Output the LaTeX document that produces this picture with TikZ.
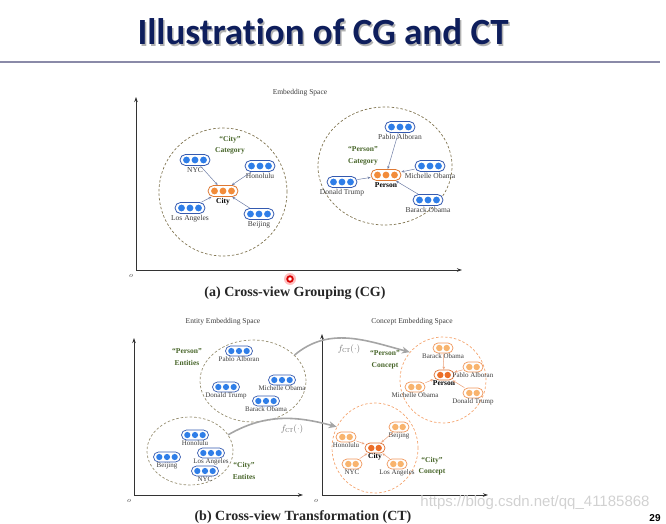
\documentclass[tikz,border=0pt]{standalone}
\usepackage{fontspec}
\setmainfont{Liberation Serif}
\newfontfamily\titlefont[Ligatures=NoCommon]{Carlito}
\newfontfamily\markfont{Liberation Sans}
\usepackage{tikz}
\usetikzlibrary{arrows.meta,shapes.geometric,positioning}
\definecolor{cgnavy}{RGB}{14,30,92}
\definecolor{cgrule}{RGB}{138,138,168}
\definecolor{cgblue}{RGB}{47,126,232}
\definecolor{cgblueline}{RGB}{52,90,176}
\definecolor{cgorange}{RGB}{242,140,58}
\definecolor{cgorangeline}{RGB}{222,120,50}
\definecolor{ctlight}{RGB}{248,180,110}
\definecolor{ctlightline}{RGB}{240,150,90}
\definecolor{ctdark}{RGB}{236,110,40}
\definecolor{ctdarkline}{RGB}{222,112,50}
\definecolor{cgolive}{RGB}{128,116,80}
\definecolor{cgoliveb}{RGB}{150,142,112}
\definecolor{ctcircle}{RGB}{244,164,110}
\definecolor{cggreen}{RGB}{70,100,40}
\definecolor{cglink}{RGB}{110,125,165}
\definecolor{ctlink}{RGB}{235,160,120}
\definecolor{cgtext}{RGB}{60,60,60}
\definecolor{ctgray}{RGB}{165,165,165}
\tikzstyle{bigvec} = [rectangle, rounded corners=5.5pt, draw=#1line, fill=white, line width=0.8pt, minimum width=30pt, minimum height=11pt, inner sep=0pt, path picture={\foreach \k in {-1,0,1} \fill[#1] ([xshift=\k*8.5pt]path picture bounding box.center) circle (3.4pt);}]
\tikzstyle{smallvec} = [rectangle, rounded corners=5pt, draw=#1line, fill=white, line width=0.7pt, minimum width=27pt, minimum height=10pt, inner sep=0pt, path picture={\foreach \k in {-1,0,1} \fill[#1] ([xshift=\k*7.7pt]path picture bounding box.center) circle (3.1pt);}]
\tikzstyle{conceptvec} = [rectangle, rounded corners=5pt, draw=#1line, fill=white, line width=0.7pt, minimum width=20pt, minimum height=10pt, inner sep=0pt, path picture={\foreach \k in {-1,1} \fill[#1] ([xshift=\k*3.7pt]path picture bounding box.center) circle (3.2pt);}]
\tikzstyle{group} = [ellipse, draw=#1, dash pattern=on 2.5pt off 2pt, line width=0.7pt, inner sep=0pt]
\tikzstyle{lbl} = [font=\fontsize{7.5}{8}\selectfont, text=cgtext, inner sep=0pt]
\tikzstyle{cat} = [font=\fontsize{7.5}{11.5}\selectfont\bfseries, text=cggreen, align=center, inner sep=0pt]
\tikzstyle{link} = [-{Stealth[open, length=3pt, width=2.6pt]}, line width=0.5pt, draw=#1]
\tikzstyle{axis} = [{Stealth[length=5pt, width=3.5pt]}-{Stealth[length=5pt, width=3.5pt]}, line width=0.8pt, draw=black!80]
\tikzstyle{ctarrow} = [-{Stealth[length=8pt, width=7pt]}, line width=1.6pt, draw=ctgray]
\tikzstyle{caption} = [font=\fontsize{14}{16}\selectfont\bfseries, text=black!85, inner sep=0pt]
\tikzstyle{space} = [font=\fontsize{7.5}{8}\selectfont, text=cgtext, inner sep=0pt]
\tikzstyle{origin} = [font=\fontsize{7}{8}\selectfont\itshape, text=cgtext, inner sep=0pt]

\begin{document}
\begin{tikzpicture}[x=1pt, y=1pt]
    \useasboundingbox (0,0) rectangle (666,523);
    \clip (0,0) rectangle (666,523);

    % Title
    \node[font=\titlefont\bfseries\fontsize{37}{40}\selectfont, text=black!30] (titleshade) at (324.5,489.5) {Illustration of CG and CT};
    \node[font=\titlefont\bfseries\fontsize{37}{40}\selectfont, text=cgnavy] (title) at (323,491) {Illustration of CG and CT};
    \coordinate (rulel) at (0,461);
    \coordinate (ruler) at (660,461);
    \draw[cgrule, line width=1.5pt] (rulel) -- (ruler);

    % (a) axes
    \node[space] (spacea) at (300,430) {Embedding Space};
    \coordinate (oa) at (136,253);
    \coordinate (ya) at (136,426);
    \coordinate (xa) at (462,253);
    \draw[axis] (ya) -- (oa) -- (xa);
    \node[origin] (olaba) at (131,247) {$o$};

    % (a) city category
    \node[group=cgolive, minimum width=128pt, minimum height=128pt] (cityspace) at (223,331) {};
    \node[cat] (citycat) at (230,378) {“City”\\Category};
    \node[bigvec=cgblue] (nyc) at (195,363) {};
    \node[bigvec=cgblue] (hono) at (260,357) {};
    \node[bigvec=cgorange] (city) at (223,332) {};
    \node[bigvec=cgblue] (la) at (190,315) {};
    \node[bigvec=cgblue] (beij) at (259,309) {};
    \node[lbl, below=1pt of nyc] (nyclbl) {NYC};
    \node[lbl, below=1pt of hono] (honolbl) {Honolulu};
    \node[lbl, below=1pt of city, font=\fontsize{7.5}{8}\selectfont\bfseries, text=black] (citylbl) {City};
    \node[lbl, below=1pt of la] (lalbl) {Los Angeles};
    \node[lbl, below=1pt of beij] (beijlbl) {Beijing};
    \draw[link=cglink] (nyc) -- (city);
    \draw[link=cglink] (hono) -- (city);
    \draw[link=cglink] (la) -- (city);
    \draw[link=cglink] (beij) -- (city);

    % (a) person category
    \node[group=cgolive, minimum width=134pt, minimum height=118pt] (personspace) at (385,357) {};
    \node[cat] (personcat) at (363,367) {“Person”\\Category};
    \node[bigvec=cgblue] (pablo) at (400,396) {};
    \node[bigvec=cgorange] (person) at (386,348) {};
    \node[bigvec=cgblue] (michelle) at (430,357) {};
    \node[bigvec=cgblue] (donald) at (342,341) {};
    \node[bigvec=cgblue] (barack) at (428,323) {};
    \node[lbl, below=1pt of pablo] (pablolbl) {Pablo Alboran};
    \node[lbl, below=1pt of person, font=\fontsize{7.5}{8}\selectfont\bfseries, text=black] (personlbl) {Person};
    \node[lbl, below=1pt of michelle] (michellelbl) {Michelle Obama};
    \node[lbl, below=1pt of donald] (donaldlbl) {Donald Trump};
    \node[lbl, below=1pt of barack] (baracklbl) {Barack Obama};
    \draw[link=cglink] (pablo) -- (person);
    \draw[link=cglink] (michelle) -- (person);
    \draw[link=cglink] (donald) -- (person);
    \draw[link=cglink] (barack) -- (person);

    \node[caption] (capa) at (295,230) {(a) Cross-view Grouping (CG)};

    % pointer mark
    \fill[red!25] (290,244) circle (6);
    \draw[red!85!black, line width=1.8pt, fill=white] (290,244) circle (2.8);

    % (b) axes
    \node[space] (spaceent) at (223,201) {Entity Embedding Space};
    \node[space] (spacecon) at (412,201) {Concept Embedding Space};
    \coordinate (ob) at (134,28);
    \coordinate (yb) at (134,185);
    \coordinate (xb) at (303,28);
    \draw[axis] (yb) -- (ob) -- (xb);
    \node[origin] (olabb) at (129,22) {$o$};
    \coordinate (oc) at (322,28);
    \coordinate (yc) at (322,189);
    \coordinate (xc) at (488,28);
    \draw[axis] (yc) -- (oc) -- (xc);
    \node[origin] (olabc) at (316,22) {$o$};

    % (b) entity space
    \node[group=cgoliveb, minimum width=106pt, minimum height=82pt] (entperson) at (253,142) {};
    \node[cat] (entpersoncat) at (187,166) {“Person”\\Entities};
    \node[smallvec=cgblue] (pabloe) at (239,172) {};
    \node[smallvec=cgblue] (donalde) at (226,136) {};
    \node[smallvec=cgblue] (michellee) at (282,143) {};
    \node[smallvec=cgblue] (baracke) at (266,122) {};
    \node[lbl, below=0.5pt of pabloe, font=\fontsize{7}{8}\selectfont] (pabloelbl) {Pablo Alboran};
    \node[lbl, below=0.5pt of donalde, font=\fontsize{7}{8}\selectfont] (donaldelbl) {Donald Trump};
    \node[lbl, below=0.5pt of michellee, font=\fontsize{7}{8}\selectfont] (michelleelbl) {Michelle Obama};
    \node[lbl, below=0.5pt of baracke, font=\fontsize{7}{8}\selectfont] (barackelbl) {Barack Obama};

    \node[group=cgoliveb, minimum width=86pt, minimum height=68pt] (entcity) at (190,72) {};
    \node[cat] (entcitycat) at (244,52) {“City”\\Entites};
    \node[smallvec=cgblue] (honoe) at (195,88) {};
    \node[smallvec=cgblue] (beije) at (167,66) {};
    \node[smallvec=cgblue] (lae) at (211,70) {};
    \node[smallvec=cgblue] (nyce) at (205,52) {};
    \node[lbl, below=0.5pt of honoe, font=\fontsize{7}{8}\selectfont] (honoelbl) {Honolulu};
    \node[lbl, below=0.5pt of beije, font=\fontsize{7}{8}\selectfont] (beijelbl) {Beijing};
    \node[lbl, below=0.5pt of lae, font=\fontsize{7}{8}\selectfont] (laelbl) {Los Angeles};
    \node[lbl, below=0.5pt of nyce, font=\fontsize{7}{8}\selectfont] (nycelbl) {NYC};

    % (b) concept space
    \node[group=ctcircle, minimum width=86pt, minimum height=86pt] (conperson) at (443,143) {};
    \node[cat] (conpersoncat) at (385,163) {“Person”\\Concept};
    \node[conceptvec=ctlight] (barackc) at (443,175) {};
    \node[conceptvec=ctdark] (personc) at (444,148) {};
    \node[conceptvec=ctlight] (pabloc) at (473,156) {};
    \node[conceptvec=ctlight] (michellec) at (415,136) {};
    \node[conceptvec=ctlight] (donaldc) at (473,130) {};
    \node[lbl, below=0pt of barackc, font=\fontsize{7}{8}\selectfont] (barackclbl) {Barack Obama};
    \node[lbl, below=0pt of personc, font=\fontsize{7.5}{8}\selectfont\bfseries, text=black] (personclbl) {Person};
    \node[lbl, below=0pt of pabloc, font=\fontsize{7}{8}\selectfont] (pabloclbl) {Pablo Alboran};
    \node[lbl, below=0pt of michellec, font=\fontsize{7}{8}\selectfont] (michelleclbl) {Michelle Obama};
    \node[lbl, below=0pt of donaldc, font=\fontsize{7}{8}\selectfont] (donaldclbl) {Donald Trump};
    \draw[link=ctlink] (barackc) -- (personc);
    \draw[link=ctlink] (pabloc) -- (personc);
    \draw[link=ctlink] (michellec) -- (personc);
    \draw[link=ctlink] (donaldc) -- (personc);

    \node[group=ctcircle, minimum width=86pt, minimum height=90pt] (concity) at (375,75) {};
    \node[cat] (concitycat) at (432,57) {“City”\\Concept};
    \node[conceptvec=ctlight] (honoc) at (346,86) {};
    \node[conceptvec=ctdark] (cityc) at (375,75) {};
    \node[conceptvec=ctlight] (beijc) at (399,96) {};
    \node[conceptvec=ctlight] (nycc) at (352,59) {};
    \node[conceptvec=ctlight] (lac) at (397,59) {};
    \node[lbl, below=0pt of honoc, font=\fontsize{7}{8}\selectfont] (honoclbl) {Honolulu};
    \node[lbl, below=0pt of cityc, font=\fontsize{7.5}{8}\selectfont\bfseries, text=black] (cityclbl) {City};
    \node[lbl, below=0pt of beijc, font=\fontsize{7}{8}\selectfont] (beijclbl) {Beijing};
    \node[lbl, below=0pt of nycc, font=\fontsize{7}{8}\selectfont] (nycclbl) {NYC};
    \node[lbl, below=0pt of lac, font=\fontsize{7}{8}\selectfont] (laclbl) {Los Angeles};
    \draw[link=ctlink] (honoc) -- (cityc);
    \draw[link=ctlink] (beijc) -- (cityc);
    \draw[link=ctlink] (nycc) -- (cityc);
    \draw[link=ctlink] (lac) -- (cityc);

    % Transformations
    \draw[ctarrow] (entperson.32) to[out=40, in=165] (conperson.140);
    \draw[ctarrow] (entcity.23) to[out=30, in=165] (concity.151);
    \node[font=\fontsize{9}{10}\selectfont, text=black!55] (fctp) at (349,174) {$f_{\mathrm{CT}}(\cdot)$};
    \node[font=\fontsize{9}{10}\selectfont, text=black!55] (fctc) at (292,94) {$f_{\mathrm{CT}}(\cdot)$};

    \node[caption] (capb) at (303,6) {(b) Cross-view Transformation (CT)};

    % watermark and page number
    \node[font=\markfont\fontsize{15}{16}\selectfont, text=black!18] (mark) at (535,20) {https://blog.csdn.net/qq\_41185868};
    \node[font=\markfont\bfseries\fontsize{10}{11}\selectfont] (pageno) at (655,5) {29};
\end{tikzpicture}
\end{document}
